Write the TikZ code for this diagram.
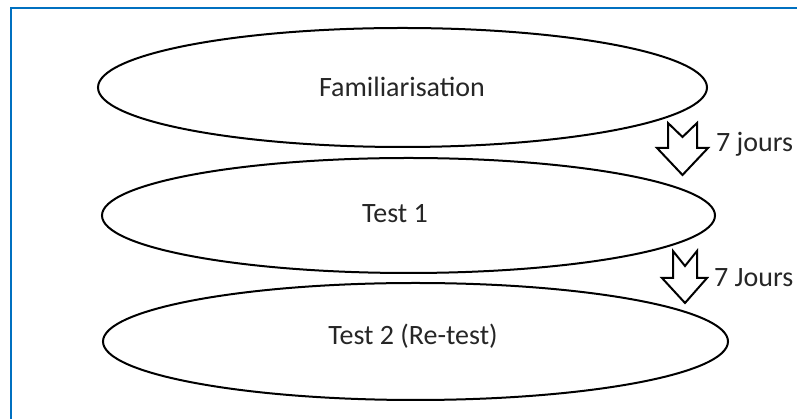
\documentclass[tikz,border=0pt]{standalone}
\usepackage{fontspec}
\setmainfont{Carlito}
\usetikzlibrary{shapes.geometric}
\definecolor{frameblue}{RGB}{0,112,192}
\definecolor{txtgray}{RGB}{38,38,38}
\tikzset{
  phase/.style={ellipse, draw=black, line width=2pt, inner sep=0pt, fill=white},
  phasetext/.style={anchor=base, inner sep=0pt, text=txtgray, font=\fontsize{28}{32}\selectfont},
  daytext/.style={anchor=base west, inner sep=0pt, text=txtgray, font=\fontsize{28}{32}\selectfont},
  blockarrow/.style={draw=black, line width=2pt, fill=white, line join=miter},
  frameline/.style={draw=frameblue, line width=2.2pt}
}
\begin{document}
\begin{tikzpicture}[x=1pt,y=1pt]
\useasboundingbox (0,0) rectangle (797,419);
\draw[frameline] (11,-5) -- (11,411) -- (805,411);
% phases
\node[phase, minimum width=609pt, minimum height=119pt] (fam) at (402.5,331.5) {};
\node[phase, minimum width=613pt, minimum height=115pt] (t1) at (408.5,203.5) {};
\node[phase, minimum width=625pt, minimum height=117pt] (t2) at (415.5,77.5) {};
\node[phasetext] (famtxt) at (402,322) {Familiarisation};
\node[phasetext] (t1txt) at (395,196) {Test 1};
\node[phasetext] (t2txt) at (413,74) {Test 2 (Re-test)};
% block arrows
\draw[blockarrow] (668,296) -- (682.5,282) -- (697,296) -- (697,271) -- (708,271)
  -- (682.5,244) -- (657,271) -- (668,271) -- cycle;
\draw[blockarrow] (673,168) -- (685,153) -- (697,168) -- (697,141) -- (707,141)
  -- (685,116) -- (662,141) -- (673,141) -- cycle;
\node[daytext] (d1) at (716,267) {7 jours};
\node[daytext] (d2) at (714,132) {7 Jours};
\end{tikzpicture}
\end{document}
